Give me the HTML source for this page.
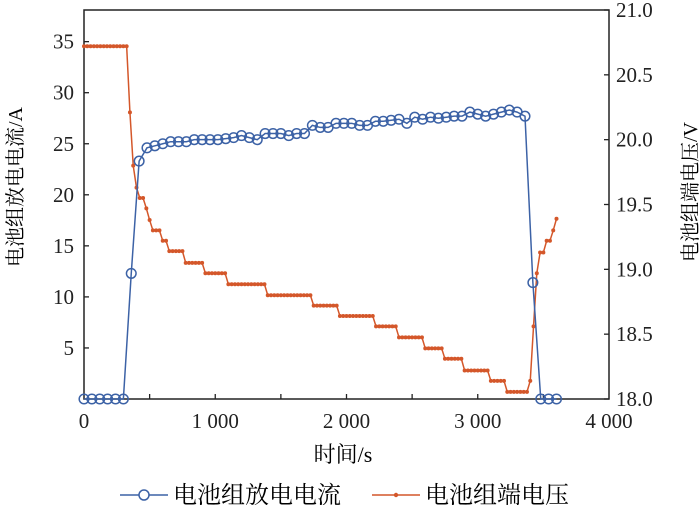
<!DOCTYPE html>
<html><head><meta charset="utf-8"><style>
html,body{margin:0;padding:0;background:#fff;}
svg{display:block;font-family:"Liberation Serif","Noto Serif CJK SC",serif;}
</style></head><body>
<svg id="chart" width="700" height="505" viewBox="0 0 700 505">
<g id="axes"></g>
<g id="series"></g>
<text x="343" y="462" font-size="22" text-anchor="middle" font-family="Liberation Serif, Noto Serif CJK SC, serif">时间/s</text>
<text transform="translate(22,187) rotate(-90)" font-size="20" text-anchor="middle" font-family="Liberation Serif, Noto Serif CJK SC, serif">电池组放电电流/A</text>
<text transform="translate(697,192) rotate(-90)" font-size="20" text-anchor="middle" font-family="Liberation Serif, Noto Serif CJK SC, serif">电池组端电压/V</text>
<g>
 <g>
  <line x1="120" y1="495" x2="168" y2="495" stroke="#3c62a6" stroke-width="1.5"/>
  <circle cx="144" cy="495" r="5" fill="#fff" stroke="#3c62a6" stroke-width="1.5"/>
  <text x="173" y="503" font-size="24" font-family="Liberation Serif, Noto Serif CJK SC, serif">电池组放电电流</text>
 </g>
 <g>
  <line x1="372" y1="495" x2="420" y2="495" stroke="#d4572a" stroke-width="1.5"/>
  <circle cx="396" cy="495" r="2.2" fill="#d4572a"/>
  <text x="425" y="503" font-size="24" font-family="Liberation Serif, Noto Serif CJK SC, serif">电池组端电压</text>
 </g>
</g>
</svg>
<script>
const currentTimes = [0,60,120,180,240,300,360,420,480,540,600,660,720,780,840,900,960,1020,1080,1140,1200,1260,1320,1380,1440,1500,1560,1620,1680,1740,1800,1860,1920,1980,2040,2100,2160,2220,2280,2340,2400,2460,2520,2580,2640,2700,2760,2820,2880,2940,3000,3060,3120,3180,3240,3300,3360,3420,3480,3540,3600];
const currentValues = [0,0,0,0,0,0,12.3,23.3,24.6,24.8,25.0,25.2,25.2,25.2,25.4,25.4,25.4,25.4,25.5,25.6,25.8,25.6,25.4,26.0,26.0,26.0,25.8,26.0,26.0,26.8,26.6,26.6,27.0,27.0,27.0,26.8,26.8,27.2,27.2,27.3,27.4,27.0,27.6,27.4,27.6,27.5,27.6,27.7,27.7,28.1,27.9,27.7,27.9,28.1,28.3,28.1,27.7,11.4,0,0,0];
const voltageTimes = [0,25,50,75,100,125,150,175,200,225,250,275,300,325,350,375,400,425,450,475,500,525,550,575,600,625,650,675,700,725,750,775,800,825,850,875,900,925,950,975,1000,1025,1050,1075,1100,1125,1150,1175,1200,1225,1250,1275,1300,1325,1350,1375,1400,1425,1450,1475,1500,1525,1550,1575,1600,1625,1650,1675,1700,1725,1750,1775,1800,1825,1850,1875,1900,1925,1950,1975,2000,2025,2050,2075,2100,2125,2150,2175,2200,2225,2250,2275,2300,2325,2350,2375,2400,2425,2450,2475,2500,2525,2550,2575,2600,2625,2650,2675,2700,2725,2750,2775,2800,2825,2850,2875,2900,2925,2950,2975,3000,3025,3050,3075,3100,3125,3150,3175,3200,3225,3250,3275,3300,3325,3350,3375,3400,3425,3450,3475,3500,3525,3550,3575,3600];
const voltageValues = [20.72,20.72,20.72,20.72,20.72,20.72,20.72,20.72,20.72,20.72,20.72,20.72,20.72,20.72,20.21,19.80,19.63,19.55,19.55,19.47,19.38,19.30,19.30,19.30,19.22,19.22,
19.14,19.14,19.14,19.14,19.14,
19.05,19.05,19.05,19.05,19.05,19.05,
18.97,18.97,18.97,18.97,18.97,18.97,18.97,
18.885,18.885,18.885,18.885,18.885,18.885,18.885,18.885,18.885,18.885,18.885,18.885,
18.80,18.80,18.80,18.80,18.80,18.80,18.80,18.80,18.80,18.80,18.80,18.80,18.80,18.80,
18.72,18.72,18.72,18.72,18.72,18.72,18.72,18.72,
18.64,18.64,18.64,18.64,18.64,18.64,18.64,18.64,18.64,18.64,18.64,
18.56,18.56,18.56,18.56,18.56,18.56,18.56,
18.475,18.475,18.475,18.475,18.475,18.475,18.475,18.475,
18.39,18.39,18.39,18.39,18.39,18.39,
18.31,18.31,18.31,18.31,18.31,18.31,
18.22,18.22,18.22,18.22,18.22,18.22,18.22,18.22,
18.14,18.14,18.14,18.14,18.14,
18.055,18.055,18.055,18.055,18.055,18.055,18.055,
18.14,18.56,18.97,19.13,19.13,19.22,19.22,19.30,19.39];
const xTicks = [0,1000,2000,3000,4000];
const xTickLabels = ["0","1 000","2 000","3 000","4 000"];
const leftTicks = [5,10,15,20,25,30,35];
const rightTicks = [18.0,18.5,19.0,19.5,20.0,20.5,21.0];
const rightTickLabels = ["18.0","18.5","19.0","19.5","20.0","20.5","21.0"];

const X0=84,X1=609,Y0=399,Y1=10;
const xScale=t=>X0+(t-0)/(4000-0)*(X1-X0);
const yL=v=>Y0-(v-0)/(38.1-0)*(Y0-Y1);
const yR=v=>Y0-(v-18)/(21-18)*(Y0-Y1);
const NS="http://www.w3.org/2000/svg";
function mk(tag,attrs,parent){const e=document.createElementNS(NS,tag);for(const k in attrs)e.setAttribute(k,attrs[k]);parent.appendChild(e);return e;}
const axes=document.getElementById('axes'),series=document.getElementById('series');

const frame=mk('rect',{x:X0,y:Y1,width:X1-X0,height:Y0-Y1,fill:'none',stroke:'#222','stroke-width':1.5},axes);


for(let t=500;t<4000;t+=500){
  const l=mk('line',{x1:xScale(t),x2:xScale(t),y1:Y0,y2:Y0-5,stroke:'#222','stroke-width':1.3},axes);
  
  
}
xTicks.forEach((t,i)=>{
  const tx=mk('text',{x:xScale(t),y:428,'font-size':21,'text-anchor':'middle',fill:'#222'},axes);
  tx.textContent=xTickLabels[i];
  
  
});
leftTicks.forEach(v=>{
  const l=mk('line',{x1:X0,x2:X0+5,y1:yL(v),y2:yL(v),stroke:'#222','stroke-width':1.3},axes);
  
  
  const tx=mk('text',{x:74,y:yL(v)+7,'font-size':21,'text-anchor':'end',fill:'#222'},axes);
  tx.textContent=String(v);
  
  
});
rightTicks.forEach((v,i)=>{
  const l=mk('line',{x1:X1,x2:X1-5,y1:yR(v),y2:yR(v),stroke:'#222','stroke-width':1.3},axes);
  
  
  const tx=mk('text',{x:616,y:yR(v)+7,'font-size':21,'text-anchor':'start',fill:'#222'},axes);
  tx.textContent=rightTickLabels[i];
  
  
});

const vpts=voltageTimes.map((t,i)=>xScale(t)+','+yR(voltageValues[i])).join(' ');
const vl=mk('polyline',{points:vpts,fill:'none',stroke:'#d4572a','stroke-width':1.5},series);


voltageTimes.forEach((t,i)=>{
  const c=mk('circle',{cx:xScale(t),cy:yR(voltageValues[i]),r:2,fill:'#d4572a'},series);
  
  
});
const cpts=currentTimes.map((t,i)=>xScale(t)+','+yL(currentValues[i])).join(' ');
const cl=mk('polyline',{points:cpts,fill:'none',stroke:'#3c62a6','stroke-width':1.5},series);


currentTimes.forEach((t,i)=>{
  const c=mk('circle',{cx:xScale(t),cy:yL(currentValues[i]),r:4.8,fill:'none',stroke:'#3c62a6','stroke-width':1.5},series);
  
  
});
</script>
</body></html>
